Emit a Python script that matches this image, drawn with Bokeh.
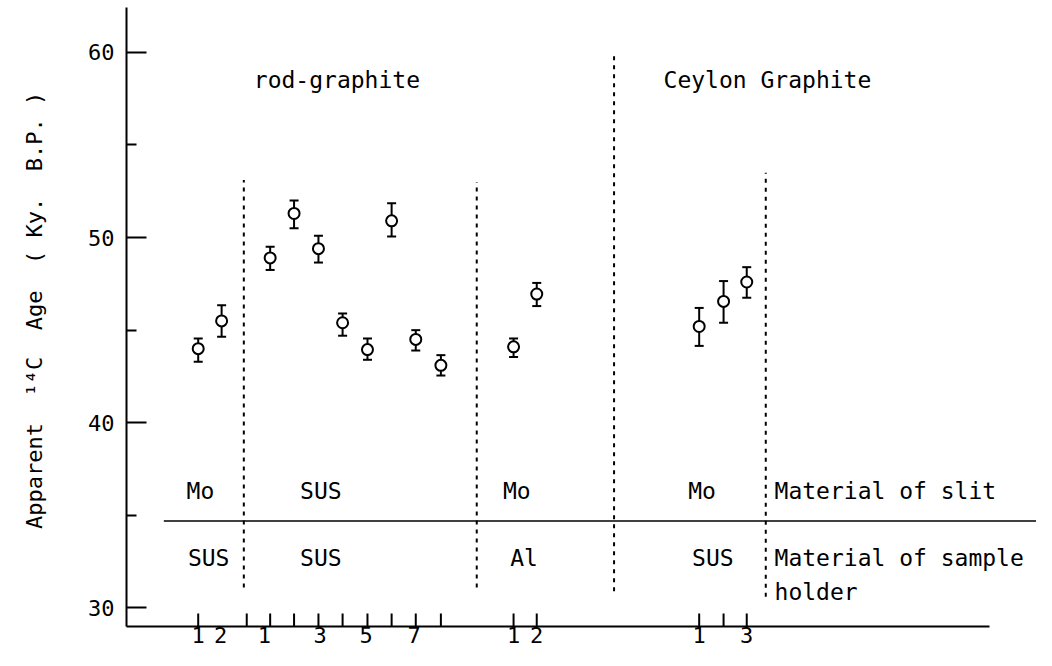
from bokeh.plotting import figure
from bokeh.models import ColumnDataSource, Whisker, TeeHead, FixedTicker, Range1d
from bokeh.core.properties import value
from bokeh.embed import file_html
from bokeh.resources import INLINE

FONT = "DejaVu Sans Mono"

# ---- data (x = sample position along the axis, y = apparent 14C age in ky B.P.)
mo_sus_x = [2.94, 3.90]
mo_sus_age = [44.0, 45.5]
mo_sus_lo = [43.3, 44.65]
mo_sus_hi = [44.55, 46.35]

rod_sus_x = [5.89, 6.87, 7.87, 8.86, 9.88, 10.87, 11.86, 12.89]
rod_sus_age = [48.9, 51.3, 49.4, 45.4, 43.95, 50.9, 44.5, 43.1]
rod_sus_lo = [48.25, 50.5, 48.65, 44.7, 43.4, 50.05, 43.9, 42.55]
rod_sus_hi = [49.5, 52.0, 50.1, 45.9, 44.55, 51.85, 45.0, 43.65]

mo_al_x = [15.87, 16.82]
mo_al_age = [44.1, 46.95]
mo_al_lo = [43.55, 46.3]
mo_al_hi = [44.55, 47.55]

ceylon_x = [23.48, 24.48, 25.43]
ceylon_age = [45.2, 46.55, 47.6]
ceylon_lo = [44.15, 45.4, 46.75]
ceylon_hi = [46.2, 47.65, 48.4]

# tick marks on the x axis (no labels) and tick labels (their own positions)
x_ticks = [2.94, 4.93, 5.89, 6.87, 7.87, 8.86, 9.88, 10.87, 11.86, 12.89, 15.87, 16.82, 23.48, 24.48, 25.43]
x_tick_labels = ["1", "2", "1", "3", "5", "7", "1", "2", "1", "3"]
x_tick_label_pos = [2.94, 3.86, 5.65, 7.94, 9.82, 11.79, 15.87, 16.82, 23.48, 25.43]

y_major = [30, 40, 50, 60]
y_minor = [35, 45, 55]

separators_x = [4.81, 14.36, 19.99, 26.21]
separators_top = [53.1, 53.0, 60.0, 53.5]
separators_bottom = [31.1, 31.1, 30.9, 30.6]

group_titles = ["rod-graphite", "Ceylon Graphite"]
slit_materials = ["Mo", "SUS", "Mo", "Mo", "Material of slit"]
holder_materials = ["SUS", "SUS", "Al", "SUS", "Material of sample", "holder"]

Y0, Y1 = 29.0, 62.42
X0, X1 = 0.0, 37.31
TICK_LEN = 0.70  # in y units (about 13 px)

# ---- figure
p = figure(width=1036, height=650, output_backend="svg", toolbar_location=None,
           x_range=Range1d(X0, X1), y_range=Range1d(Y0, Y1),
           min_border_left=126, min_border_right=0, min_border_top=7, min_border_bottom=24)
p.outline_line_color = None
p.xgrid.grid_line_color = None
p.ygrid.grid_line_color = None
p.background_fill_color = "white"
p.border_fill_color = "white"

# y axis
ya = p.yaxis[0]
ya.ticker = FixedTicker(ticks=y_major, minor_ticks=y_minor)
ya.major_tick_in = 20
ya.major_tick_out = 0
ya.minor_tick_in = 10
ya.minor_tick_out = 0
ya.axis_line_width = 2
ya.major_tick_line_width = 2
ya.minor_tick_line_width = 2
ya.major_label_text_font = FONT
ya.major_label_text_font_size = "22px"
ya.major_label_text_color = "black"
ya.major_label_standoff = 12
NB = "\u00a0"
ya.axis_label = (NB + "Apparent" + NB * 2 + "\u00b9\u2074C" + NB * 2 + "Age" + NB * 2 + "(" + NB + "Ky." + NB * 2
                 + "B.P." + NB + ")")
ya.axis_label_text_font = FONT
ya.axis_label_text_font_size = "22px"
ya.axis_label_text_font_style = "normal"
ya.axis_label_text_color = "black"
ya.axis_label_standoff = 38

# x axis: line + labels; tick marks drawn as short segments from the axis
xa = p.xaxis[0]
xa.ticker = FixedTicker(ticks=x_tick_label_pos, minor_ticks=[])
xa.major_label_overrides = {pos: lab for pos, lab in zip(x_tick_label_pos, x_tick_labels)}
xa.bounds = (0, 35.4)
xa.major_tick_line_color = None
xa.major_tick_in = 0
xa.major_tick_out = 0
xa.axis_line_width = 2
xa.major_label_text_font = FONT
xa.major_label_text_font_size = "22px"
xa.major_label_text_color = "black"
xa.major_label_standoff = 0

p.segment(x0=x_ticks, y0=[Y0] * len(x_ticks), x1=x_ticks, y1=[Y0 + TICK_LEN] * len(x_ticks),
          line_color="black", line_width=2)

# separators
p.segment(x0=separators_x, y0=separators_bottom, x1=separators_x, y1=separators_top,
          line_color="black", line_width=2, line_dash="4 5")
# horizontal dividing line
p.segment(x0=[1.53], y0=[34.7], x1=[X1], y1=[34.7], line_color="black", line_width=1.5)

# texts
p.text(x=[5.22, 22.02], y=[58.5, 58.5], text=group_titles, text_font=value(FONT),
       text_font_size="23px", text_align="left", text_baseline="middle", text_color="black")
p.text(x=[3.03, 7.97, 16.0, 23.6, 26.57], y=[36.3] * 5, text=slit_materials,
       text_font=value(FONT), text_font_size="23px",
       text_align=["center", "center", "center", "center", "left"], text_baseline="middle",
       text_color="black")
p.text(x=[3.37, 7.97, 16.3, 24.04, 26.57, 26.57], y=[32.7, 32.7, 32.7, 32.7, 32.7, 30.85],
       text=holder_materials, text_font=value(FONT), text_font_size="23px",
       text_align=["center", "center", "center", "center", "left", "left"], text_baseline="middle",
       text_color="black")

# data with error bars
for xs, ys, lo, hi in [(mo_sus_x, mo_sus_age, mo_sus_lo, mo_sus_hi),
                       (rod_sus_x, rod_sus_age, rod_sus_lo, rod_sus_hi),
                       (mo_al_x, mo_al_age, mo_al_lo, mo_al_hi),
                       (ceylon_x, ceylon_age, ceylon_lo, ceylon_hi)]:
    src = ColumnDataSource(data=dict(x=xs, y=ys, lower=lo, upper=hi))
    w = Whisker(base="x", upper="upper", lower="lower", source=src, line_width=2, line_color="black",
                upper_head=TeeHead(size=9, line_width=2, line_color="black"),
                lower_head=TeeHead(size=9, line_width=2, line_color="black"))
    w.level = "underlay"
    p.add_layout(w)
    p.scatter(x="x", y="y", source=src, marker="circle", size=11, fill_color="white",
              line_color="black", line_width=2)

open("out.html", "w").write(file_html(p, INLINE))
